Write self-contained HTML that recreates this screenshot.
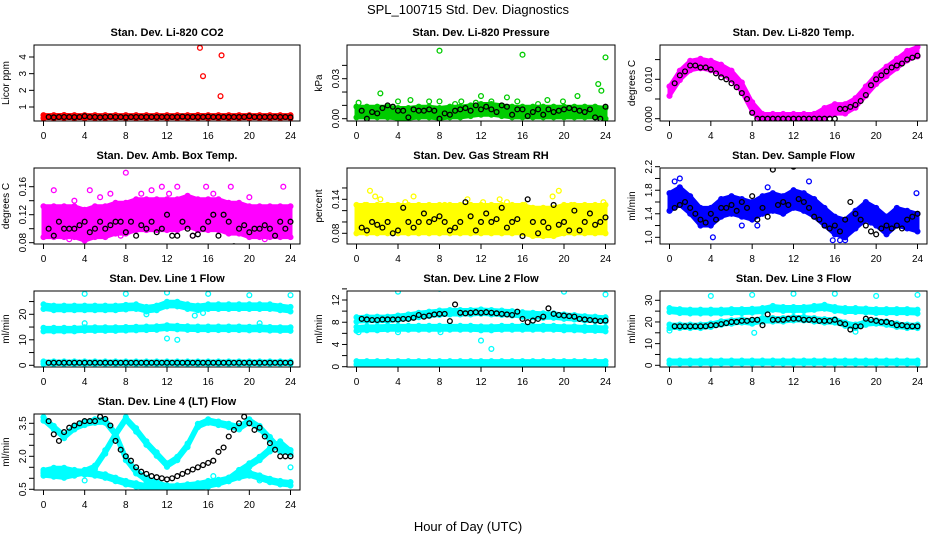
<!DOCTYPE html>
<html><head><meta charset="utf-8"><style>
body{margin:0;background:#fff;}
svg{display:block;font-family:"Liberation Sans",sans-serif;}
</style></head><body>
<svg id="chart" width="936" height="540" viewBox="0 0 936 540" xmlns="http://www.w3.org/2000/svg">
<rect width="936" height="540" fill="#fff"/>
<text x="468" y="14" font-size="13" text-anchor="middle">SPL_100715  Std. Dev. Diagnostics</text>
<text x="468" y="531" font-size="13" text-anchor="middle">Hour of Day (UTC)</text>
</svg>
<script>
const HRS=[0,1,2,3,4,5,6,7,8,9,10,11,12,13,14,15,16,17,18,19,20,21,22,23,24];
const HALF=[0.5,1,1.5,2,2.5,3,3.5,4,4.5,5,5.5,6,6.5,7,7.5,8,8.5,9,9.5,10,10.5,11,11.5,12,12.5,13,13.5,14,14.5,15,15.5,16,16.5,17,17.5,18,18.5,19,19.5,20,20.5,21,21.5,22,22.5,23,23.5,24];
const XTICKS=[0,4,8,12,16,20,24];

// Panel 1 CO2
const co2Band=[0.42,0.42,0.43,0.42,0.42,0.42,0.42,0.42,0.42,0.42,0.42,0.42,0.42,0.42,0.42,0.43,0.42,0.42,0.42,0.42,0.42,0.42,0.42,0.42,0.42];
const co2OutH=[15.2,17.3,15.5,17.2];
const co2OutV=[4.55,4.1,2.85,1.65];
const co2Black=[0.4,0.38,0.4,0.4,0.4,0.39,0.4,0.45,0.4,0.4,0.38,0.4,0.42,0.4,0.4,0.38,0.4,0.4,0.4,0.4,0.4,0.4,0.4,0.4,0.4,0.4,0.42,0.4,0.4,0.4,0.4,0.42,0.4,0.4,0.4,0.4,0.4,0.4,0.4,0.45,0.4,0.4,0.4,0.4,0.4,0.4,0.4,0.38];
// Panel 2 pressure
const presBand=[0.005,0.005,0.005,0.005,0.004,0.004,0.005,0.005,0.004,0.005,0.005,0.006,0.007,0.007,0.006,0.005,0.005,0.005,0.005,0.005,0.005,0.005,0.005,0.005,0.004];
const presOutH=[8,16,24,2.3,23.3,23.6,21.3,12,14.5,5.2,4,7,8,10.1,13,15.5,17.5,18.4,19.9,0.2,9.5,11.5];
const presOutV=[0.051,0.048,0.046,0.019,0.026,0.021,0.017,0.017,0.016,0.014,0.013,0.013,0.013,0.013,0.013,0.013,0.011,0.014,0.013,0.012,0.011,0.012];
const presBlack=[0.006,0.0,0.005,0.004,0.008,0.010,0.009,0.006,0.006,0.001,0.007,0.006,0.006,0.007,0.006,0.0,0.004,0.003,0.006,0.007,0.008,0.006,0.010,0.007,0.009,0.007,0.005,0.010,0.009,0.003,0.007,0.007,0.002,0.005,0.007,0.003,0.007,0.005,0.006,0.007,0.008,0.007,0.006,0.005,0.007,0.001,0.0,0.009];
// Panel 3 temp
const tempBand=[0.007,0.011,0.0135,0.014,0.0135,0.0125,0.011,0.008,0.003,0,0,0,0,0,0,0.0015,0.0025,0.0025,0.004,0.007,0.010,0.012,0.014,0.016,0.017];
const tempBlack=[0.009,0.011,0.012,0.0135,0.0135,0.013,0.013,0.0125,0.0115,0.0105,0.010,0.009,0.008,0.0065,0.005,0.0015,0,0,0,0,0,0,0,0,0,0,0,0,0,0,0,0,0.0025,0.0025,0.003,0.0035,0.0045,0.006,0.0085,0.010,0.011,0.012,0.013,0.0135,0.014,0.015,0.0155,0.016];
// Panel 4 amb box temp
const ambBand=[0.11,0.11,0.11,0.11,0.105,0.11,0.11,0.115,0.115,0.12,0.12,0.12,0.12,0.12,0.125,0.12,0.12,0.12,0.115,0.115,0.11,0.11,0.11,0.11,0.11];
const ambOutH=[8,1,4.5,6.5,10.5,11.5,13,15.8,18.2,21.5,23.3,2.5,9.5,12.2,16.5,20,14.5,7.5,5.5,3];
const ambOutV=[0.18,0.155,0.155,0.15,0.155,0.16,0.16,0.16,0.16,0.085,0.16,0.085,0.15,0.15,0.15,0.145,0.09,0.09,0.145,0.14];
const ambBlack=[0.1,0.09,0.11,0.1,0.1,0.1,0.105,0.11,0.095,0.1,0.11,0.1,0.105,0.11,0.11,0.095,0.11,0.09,0.105,0.1,0.11,0.095,0.1,0.12,0.09,0.09,0.11,0.1,0.09,0.092,0.1,0.11,0.12,0.09,0.12,0.11,0.075,0.1,0.105,0.095,0.1,0.1,0.105,0.1,0.09,0.11,0.1,0.11];
// Panel 5 RH
const rhBand=[0.105,0.105,0.105,0.105,0.105,0.105,0.105,0.105,0.105,0.105,0.105,0.105,0.105,0.105,0.105,0.105,0.105,0.1,0.1,0.1,0.105,0.105,0.105,0.105,0.105];
const rhOutH=[1.3,1.8,2.3,4.7,5.5,10.7,12.2,13.8,14.5,16.2,18.9,19.5,20.7,23.8,0.8,8.5,11];
const rhOutV=[0.155,0.145,0.14,0.135,0.145,0.14,0.135,0.14,0.135,0.13,0.145,0.155,0.13,0.135,0.13,0.13,0.13];
const rhBlack=[0.09,0.085,0.1,0.095,0.09,0.1,0.08,0.085,0.125,0.1,0.09,0.1,0.115,0.1,0.105,0.11,0.1,0.085,0.09,0.1,0.135,0.11,0.085,0.1,0.115,0.1,0.105,0.125,0.09,0.1,0.105,0.075,0.14,0.1,0.08,0.1,0.09,0.13,0.095,0.1,0.085,0.12,0.085,0.1,0.115,0.095,0.1,0.108];
// Panel 6 sample flow
const flowBand=[1.6,1.7,1.55,1.35,1.35,1.5,1.55,1.5,1.45,1.55,1.6,1.55,1.65,1.6,1.5,1.35,1.2,1.15,1.3,1.45,1.35,1.2,1.35,1.3,1.25];
const flowOutH=[0.5,1,7,8.5,9.5,13.5,16.5,19.5,23.9,4.2,15.8,17];
const flowOutV=[1.95,2.0,1.2,1.2,1.85,1.95,0.95,1.25,1.75,1.0,0.95,0.95];
const flowBlack=[1.5,1.55,1.6,1.5,1.4,1.3,1.25,1.4,1.3,1.5,1.5,1.55,1.45,1.6,1.5,1.7,1.3,1.5,1.35,2.15,1.55,1.6,1.55,2.2,1.65,1.6,1.5,1.35,1.3,1.2,1.15,1.2,1.1,1.3,1.6,1.4,1.3,1.2,1.1,1.05,1.15,1.2,1.15,1.2,1.15,1.3,1.35,1.4];
// Panel 7 line 1
const l1BandA=[23,22.5,22.5,22.5,22.5,22.5,22.5,22.5,22.8,23,22,22.5,24,24,23,22.5,23,23,23,23,23,23,23,22.5,22];
const l1BandB=[14,14,14,14,14.2,14.2,14.2,14.2,14.3,14.4,14.5,14.6,15,14.8,14.6,14.5,14.5,14.5,14.5,14.5,14.4,14.5,14.3,14.2,14.2];
const l1BandC=[1,1,1,1,1,1,1,1,1,1,1,1,1,1,1,1,1,1,1,1,1,1,1,1,1];
const l1OutH=[4,8,12,16,20,24,12,13,10,14.7,15.5,4,21];
const l1OutV=[28,28,28.5,28,27.5,27.5,10.5,10,20,19.5,20.5,16.5,16.5];
const l1Black=[1,1,1,1,1,1,1,1,1,1,1,1,1,1,1,1,1,1,1,1,1,1,1,1,1,1,1,1,1,1,1,1,1,1,1,1,1,1,1,1,1,1,1,1,1,1,1,1];
// Panel 8 line 2
const l2BandA=[8.5,8.6,8.6,8.6,8.8,9,9.3,9.5,9.7,9.8,9.8,9.8,9.9,9.8,9.7,9.6,9.4,9.3,9.2,9.2,9.0,8.9,8.7,8.6,8.5];
const l2BandB=[6.8,6.9,6.9,7,7,7,7,7,7,7,7,7,6.9,6.9,7,7,7,7,7,7,6.9,6.9,6.8,6.8,6.7];
const l2BandC=[0.7,0.7,0.7,0.7,0.7,0.7,0.7,0.7,0.7,0.7,0.7,0.7,0.7,0.7,0.7,0.7,0.7,0.7,0.7,0.7,0.7,0.7,0.7,0.7,0.7];
const l2OutH=[4,8,12,16,20,24,12,13,0.2,4,8.1];
const l2OutV=[13.5,14,14.5,14.3,13.5,13,4.7,3.2,6.2,6.2,6.2];
const l2Black=[8.6,8.5,8.4,8.4,8.5,8.5,8.5,8.5,8.6,8.6,8.8,9.3,9.0,9.2,9.4,9.5,9.5,8.2,11.2,9.7,9.6,9.7,9.8,9.7,9.8,9.7,9.6,9.5,9.4,9.3,9.9,8.6,8.0,8.3,8.6,9.0,10.5,9.5,9.3,9.2,9.1,9.0,8.6,8.5,8.4,8.3,8.2,8.3];
// Panel 9 line 3
const l3BandA=[25.5,25,24.8,24.8,24.8,24.8,25,25,25.2,25.5,26.5,26,26,26,26.5,27,26,25.5,25.5,25.3,25,25,25,25,24.8];
const l3BandB=[18,18,18,18,18.5,19.5,20,20.5,20,21,21,21,21.5,21.5,21,20.5,20.5,19,18,19.5,20,19.5,18.5,18,18];
const l3BandC=[1.5,1.5,1.5,1.5,1.5,1.5,1.5,1.5,1.5,1.5,1.5,1.5,1.5,1.5,1.5,1.5,1.5,1.5,1.5,1.5,1.5,1.5,1.5,1.5,1.5];
const l3OutH=[4,8,12,16,20,24,0,8.2,18];
const l3OutV=[32,32.5,33,33,32,32.5,16,15,15.5];
const l3Black=[18,18,18,18,18,18,18,18.5,18.5,19,19.5,20,20,20.5,20.5,21,21,18.5,23.5,21,21,21,21.5,21.5,21.5,21,21,21,20.5,20.5,20.5,21,19.5,19,16.5,18,18,21.5,21,20.5,20,20,19.5,18.5,18.5,18,18,18];
// Panel 10 line 4
const l4BandA=[3.7,3.3,2.9,3.3,3.5,3.6,3.6,3.0,1.9,1.3,0.95,0.75,0.6,0.6,0.65,0.7,0.8,0.85,0.95,1.3,1.6,1.9,2.3,2.6,2.2];
const l4BandB=[1.3,1.4,1.4,1.3,1.25,1.2,1.1,0.95,0.8,0.7,0.6,0.55,0.5,0.5,0.55,0.6,0.7,0.8,0.95,1.1,1.2,1.05,0.9,0.8,0.75];
const l4BandC=[1.2,1.15,1.1,1.2,1.3,1.5,2.2,3.0,3.7,3.2,2.6,2.1,1.6,1.9,2.5,3.4,3.6,3.5,3.4,3.3,3.6,3.3,2.8,2.3,2.2];
const l4OutH=[4,8,21,24,16.5];
const l4OutV=[0.9,0.8,0.9,1.5,1.1];
const l4Black=[3.6,3.0,2.7,3.1,3.3,3.4,3.5,3.6,3.6,3.6,3.8,3.7,3.4,2.7,2.3,2.0,1.8,1.5,1.3,1.2,1.1,1.05,1.0,0.95,1.0,1.1,1.2,1.3,1.4,1.5,1.6,1.7,1.8,2.2,2.4,2.9,3.2,3.5,3.8,3.5,3.2,3.3,2.9,2.6,2.3,2.0,2.0,2.0];

const svg=document.getElementById('chart');
const NS='http://www.w3.org/2000/svg';
function mk(tag,attrs,parent){const e=document.createElementNS(NS,tag);for(const k in attrs)e.setAttribute(k,attrs[k]);(parent||svg).appendChild(e);return e;}

const COLS=[[34,300],[347,615],[660,927]];
const panels=[
 {id:'co2',title:'Stan. Dev. Li-820 CO2',ylab:'Licor ppm',c:0,r:0,ya:[1,107,4,57],ticks:[1,2,3,4],labs:['1','2','3','4'],color:'#ff0000',bands:[[co2Band,0.09]],oh:co2OutH,ov:co2OutV,black:co2Black},
 {id:'pressure',title:'Stan. Dev. Li-820 Pressure',ylab:'kPa',c:1,r:0,ya:[0,118.7,0.03,78.7],ticks:[0,0.01,0.02,0.03,0.04],labs:['0.00','','','0.03',''],color:'#00cc00',bands:[[presBand,0.004]],oh:presOutH,ov:presOutV,black:presBlack},
 {id:'temp',title:'Stan. Dev. Li-820 Temp.',ylab:'degrees C',c:2,r:0,ya:[0,118.7,0.01,79.3],ticks:[0,0.005,0.01,0.015],labs:['0.000','','0.010',''],color:'#ff00ff',bands:[[tempBand,0.0012]],oh:[],ov:[],black:tempBlack},
 {id:'amb-temp',title:'Stan. Dev. Amb. Box Temp.',ylab:'degrees C',c:0,r:1,ya:[0.08,242.7,0.16,186.7],ticks:[0.08,0.1,0.12,0.14,0.16],labs:['0.08','','0.12','','0.16'],color:'#ff00ff',bands:[[ambBand,0.022]],oh:ambOutH,ov:ambOutV,black:ambBlack},
 {id:'rh',title:'Stan. Dev. Gas Stream RH',ylab:'percent',c:1,r:1,ya:[0.08,233.3,0.14,199.3],ticks:[0.08,0.1,0.12,0.14,0.16],labs:['0.08','','','0.14',''],color:'#ffff00',bands:[[rhBand,0.025]],oh:rhOutH,ov:rhOutV,black:rhBlack},
 {id:'sample-flow',title:'Stan. Dev. Sample Flow',ylab:'ml/min',c:2,r:1,ya:[1.0,237.3,2.2,166.7],ticks:[1.0,1.2,1.4,1.6,1.8,2.0,2.2],labs:['1.0','','1.4','','1.8','','2.2'],color:'#0000ff',bands:[[flowBand,0.15]],oh:flowOutH,ov:flowOutV,black:flowBlack},
 {id:'line1',title:'Stan. Dev. Line 1 Flow',ylab:'ml/min',c:0,r:2,ya:[0,365.3,20,314.3],ticks:[0,5,10,15,20,25],labs:['0','','10','','20',''],color:'#00ffff',bands:[[l1BandA,0.9],[l1BandB,0.7],[l1BandC,0.5]],oh:l1OutH,ov:l1OutV,black:l1Black},
 {id:'line2',title:'Stan. Dev. Line 2 Flow',ylab:'ml/min',c:1,r:2,ya:[0,366.7,12,300],ticks:[0,2,4,6,8,10,12,14],labs:['0','','4','','8','','12',''],color:'#00ffff',bands:[[l2BandA,0.4],[l2BandB,0.35],[l2BandC,0.3]],oh:l2OutH,ov:l2OutV,black:l2Black},
 {id:'line3',title:'Stan. Dev. Line 3 Flow',ylab:'ml/min',c:2,r:2,ya:[0,365.3,30,300.3],ticks:[0,5,10,15,20,25,30],labs:['0','','10','','20','','30'],color:'#00ffff',bands:[[l3BandA,0.9],[l3BandB,0.8],[l3BandC,0.7]],oh:l3OutH,ov:l3OutV,black:l3Black},
 {id:'line4',title:'Stan. Dev. Line 4 (LT) Flow',ylab:'ml/min',c:0,r:3,ya:[0.5,489.3,3.5,423.3],ticks:[0.5,1.0,1.5,2.0,2.5,3.0,3.5],labs:['0.5','','','2.0','','','3.5'],color:'#00ffff',bands:[[l4BandA,0.08],[l4BandB,0.08],[l4BandC,0.08]],oh:l4OutH,ov:l4OutV,black:l4Black}
];

panels.forEach(p=>{
 const L=COLS[p.c][0],R=COLS[p.c][1],T=45+123*p.r,B=121+123*p.r;
 const xs=h=>L+9.5+h/24*(R-L-19);
 const ys=v=>p.ya[1]+(v-p.ya[0])*(p.ya[3]-p.ya[1])/(p.ya[2]-p.ya[0]);
 const g=mk('g',{});
 
 
 const t=mk('text',{x:(L+R)/2,y:T-9,'font-size':11,'font-weight':'bold','text-anchor':'middle'},g);
 t.textContent=p.title;
 
 
 const yl=mk('text',{x:0,y:0,'font-size':10,'text-anchor':'middle',transform:`translate(${L-25},${(T+B)/2}) rotate(-90)`},g);
 yl.textContent=p.ylab;
 
 
 const clip=mk('clipPath',{id:'clip-'+p.id},g);
 mk('rect',{x:L,y:T,width:R-L,height:B-T},clip);
 const pg=mk('g',{'clip-path':`url(#clip-${p.id})`},g);
 
 
 p.bands.forEach((bd,bi)=>{
  const vals=bd[0],hw=bd[1];
  const up=HRS.map((h,i)=>xs(h)+','+ys(vals[i]+hw)).join(' ');
  const dn=HRS.map((h,i)=>xs(h)+','+ys(vals[i]-hw)).reverse().join(' ');
  const poly=mk('polygon',{points:up+' '+dn,fill:p.color,stroke:p.color,'stroke-width':4,'stroke-linejoin':'round'},pg);
  
  
  HRS.forEach((h,i)=>{
   [hw,-hw].forEach(o=>{
    const c=mk('circle',{cx:xs(h),cy:ys(vals[i]+o),r:2.4,fill:'none',stroke:p.color,'stroke-width':1.3},pg);
    
    
   });
  });
 });
 p.oh.forEach((h,i)=>{
  const c=mk('circle',{cx:xs(h),cy:ys(p.ov[i]),r:2.4,fill:'none',stroke:p.color,'stroke-width':1.3},pg);
  
  
 });
 p.black.forEach((v,i)=>{
  const c=mk('circle',{cx:xs(HALF[i]),cy:ys(v),r:2.4,fill:'none',stroke:'#000','stroke-width':1.3},pg);
  
  
 });
 const box=mk('rect',{x:L,y:T,width:R-L,height:B-T,fill:'none',stroke:'#000','stroke-width':1},g);
 
 
 XTICKS.forEach(h=>{
  mk('line',{x1:xs(h),x2:xs(h),y1:B,y2:B+5,stroke:'#000'},g);
  const lt=mk('text',{x:xs(h),y:B+18,'font-size':10,'text-anchor':'middle'},g);
  lt.textContent=h;
  
  
 });
 p.ticks.forEach((v,i)=>{
  const y=ys(v);
  mk('line',{x1:L-5,x2:L,y1:y,y2:y,stroke:'#000'},g);
  if(p.labs[i]){
   const lt=mk('text',{x:0,y:0,'font-size':10,'text-anchor':'middle',transform:`translate(${L-8},${y}) rotate(-90)`},g);
   lt.textContent=p.labs[i];
   
   
  }
 });
});
</script>
</body></html>
